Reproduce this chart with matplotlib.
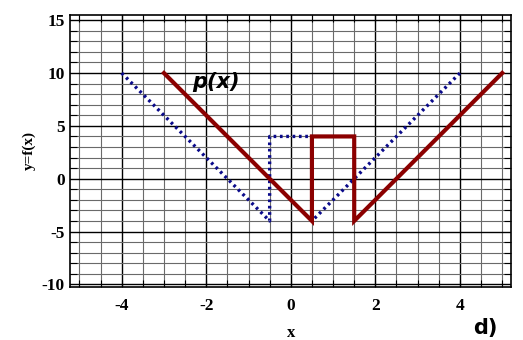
import numpy as np
import matplotlib.pyplot as plt
from matplotlib.ticker import MultipleLocator

# f(x): V-shape with a raised step on (-0.5, 0.5)
f_x = [-4, -0.5, -0.5, 0.5, 0.5, 4]
f_y = [10, -4, 4, 4, -4, 10]

# p(x) = f(x - 1)
p_x = [-3, 0.5, 0.5, 1.5, 1.5, 5]
p_y = [10, -4, 4, 4, -4, 10]

xticks = [-4, -2, 0, 2, 4]
yticks = [-10, -5, 0, 5, 10, 15]

fig = plt.figure(figsize=(5.23, 3.40), dpi=100)
ax = fig.add_axes([0.134, 0.156, 0.844, 0.800])

ax.set_xlim(-5.22, 5.22)
ax.set_ylim(-10.25, 15.5)

ax.xaxis.set_major_locator(MultipleLocator(2))
ax.xaxis.set_minor_locator(MultipleLocator(0.5))
ax.yaxis.set_major_locator(MultipleLocator(5))
ax.yaxis.set_minor_locator(MultipleLocator(1))
ax.grid(which='minor', color='#6a6a6a', lw=0.8)
ax.grid(which='major', color='black', lw=1.0)
ax.set_axisbelow(True)

ax.plot(f_x, f_y, color='#0a0a8a', lw=2.4, linestyle=(0, (0.8, 1.1)))
ax.plot(p_x, p_y, color='#8b0000', lw=3.0, solid_joinstyle='miter')

ax.set_xticks(xticks)
ax.set_yticks(yticks)
serif = {'family': 'Liberation Serif', 'weight': 'bold', 'size': 12.5}
ax.set_xticklabels([str(t) for t in xticks], fontdict=serif)
ax.set_yticklabels([str(t) for t in yticks], fontdict=serif)
ax.tick_params(which='both', direction='in', top=True, right=True,
               length=5, width=0.8, color='black')
ax.tick_params(axis='x', which='major', pad=8)
ax.tick_params(axis='y', which='major', pad=4, length=0)
for s in ax.spines.values():
    s.set_linewidth(1.2)

ax.set_xlabel('x', fontfamily='Liberation Serif', fontweight='bold',
              fontsize=12)
ax.xaxis.set_label_coords(0.5, -0.14)
ax.set_ylabel('y=f(x)', fontfamily='Liberation Serif', fontweight='bold',
              fontsize=11, labelpad=4)

ax.text(-2.33, 9.2, 'p(x)', fontsize=15, fontweight='bold', style='italic',
        fontfamily='DejaVu Sans', va='center', ha='left')
fig.text(0.927, 0.035, 'd)', fontsize=15, fontweight='bold',
         fontfamily='DejaVu Sans', ha='center', va='center')

fig.savefig('out.png', dpi=100)
